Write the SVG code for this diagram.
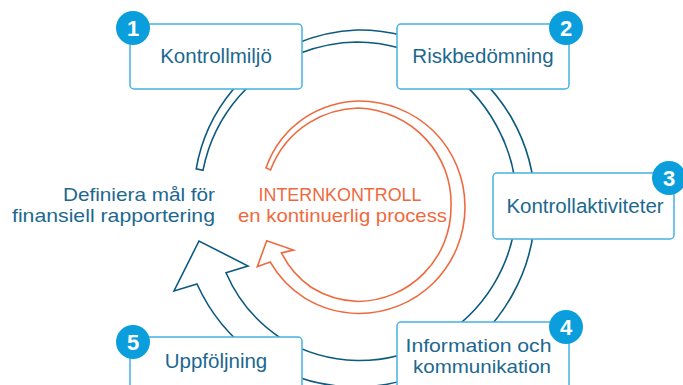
<svg xmlns="http://www.w3.org/2000/svg" width="683" height="385" viewBox="0 0 683 385">
<style>
.box{fill:#ffffff;stroke:#45b2e0;stroke-width:1.5}
.lbl{font-family:"Liberation Sans",Arial,sans-serif;font-size:20.5px;fill:#1c6890;text-anchor:middle}
.two{font-size:19px}
.badge{fill:#0a9fdc}
.num{font-family:"Liberation Sans",Arial,sans-serif;font-size:22px;font-weight:bold;fill:#ffffff;text-anchor:middle}
.ring{fill:#ffffff;stroke:#0d5a80;stroke-width:1.6;stroke-linejoin:miter}
.oring{fill:none;stroke:#ee6a3e;stroke-width:1.6}
.otxt{font-family:"Liberation Sans",Arial,sans-serif;font-size:19px;fill:#ee6a3e;text-anchor:middle}
</style>
<rect width="683" height="385" fill="#ffffff"/>
<g id="connectors">
<path class="ring" d="M196.2 168.9 A167.5 167.5 0 0 1 232.7 90.1 A171.75 171.75 0 0 1 297.7 43 A174.75 174.75 0 0 1 357 30 A176.5 176.5 0 0 1 445.5 52.7 A177.5 177.5 0 0 1 511.1 117 A178 178 0 0 1 535 206 A178.5 178.5 0 0 1 512 295.5 A179.5 179.5 0 0 1 447 361.9 A180.5 180.5 0 0 1 357 387 A181 181 0 0 1 266.5 362.8 A179.5 179.5 0 0 1 197 284 L174 291 L199 241 L248 266 L226 272.7 A150 150 0 0 0 280.75 338.1 A153.5 153.5 0 0 0 357 360.5 A155 155 0 0 0 434.75 340.7 A156.5 156.5 0 0 0 493.4 284.8 A158.5 158.5 0 0 0 516.5 206 A160.25 160.25 0 0 0 496.4 125.5 A162 162 0 0 0 438.5 64.8 A163.5 163.5 0 0 0 357 42 A163.5 163.5 0 0 0 301.3 52.8 A162 162 0 0 0 239.2 96.2 A159.5 159.5 0 0 0 203 170.4 Z"/>
<path class="oring" d="M265.95 167.9 A102 102 0 0 1 306 116.9 A105 105 0 0 1 358 101 A106.5 106.5 0 0 1 433.7 131.3 A107 107 0 0 1 465 207 A107 107 0 0 1 433.7 282.7 A106.75 106.75 0 0 1 358 313.5 A106 106 0 0 1 305.25 298.4 A104.5 104.5 0 0 1 270.1 261.9 L257.3 266.7 L266.7 240.7 L293.5 250 L281.5 252.9 A91 91 0 0 0 311.5 287.5 A93.75 93.75 0 0 0 358 301.5 A94 94 0 0 0 424.1 273.1 A93.25 93.25 0 0 0 451 207 A94.5 94.5 0 0 0 425.9 139.1 A97.5 97.5 0 0 0 358 108 A98.25 98.25 0 0 0 309.25 122.6 A96.25 96.25 0 0 0 270.55 169.9 Z"/>
</g>
<g id="center">
<text class="otxt" x="340" y="200.5" textLength="163" lengthAdjust="spacingAndGlyphs">INTERNKONTROLL</text>
<text class="otxt" x="342.5" y="222" textLength="209" lengthAdjust="spacingAndGlyphs">en kontinuerlig process</text>
</g>
<g id="goal">
<text class="lbl two" style="text-anchor:end" x="215" y="200.5" textLength="152" lengthAdjust="spacingAndGlyphs">Definiera mål för</text>
<text class="lbl two" style="text-anchor:end" x="215" y="221.5" textLength="203" lengthAdjust="spacingAndGlyphs">finansiell rapportering</text>
</g>
<g id="node1">
<rect class="box" x="130" y="24" width="172" height="65" rx="4"/>
<text class="lbl" x="216" y="63">Kontrollmiljö</text>
<circle class="badge" cx="133" cy="28" r="17"/>
<text class="num" x="133" y="36">1</text>
</g>
<g id="node2">
<rect class="box" x="397" y="24" width="172" height="65" rx="4"/>
<text class="lbl" x="483" y="63">Riskbedömning</text>
<circle class="badge" cx="566" cy="28" r="17"/>
<text class="num" x="566" y="36">2</text>
</g>
<g id="node3">
<rect class="box" x="493" y="173" width="181" height="66" rx="4"/>
<text class="lbl" x="585" y="213">Kontrollaktiviteter</text>
<circle class="badge" cx="669" cy="178" r="17"/>
<text class="num" x="669" y="186">3</text>
</g>
<g id="node4">
<rect class="box" x="397" y="322" width="172" height="75" rx="4"/>
<text class="lbl two" x="478.5" y="351.5" textLength="146" lengthAdjust="spacingAndGlyphs">Information och</text>
<text class="lbl two" x="482" y="372.5" textLength="138" lengthAdjust="spacingAndGlyphs">kommunikation</text>
<circle class="badge" cx="566" cy="327" r="17"/>
<text class="num" x="566" y="335">4</text>
</g>
<g id="node5">
<rect class="box" x="130" y="337" width="172" height="60" rx="4"/>
<text class="lbl" x="216" y="368">Uppföljning</text>
<circle class="badge" cx="133" cy="342" r="17"/>
<text class="num" x="133" y="350">5</text>
</g>
</svg>
